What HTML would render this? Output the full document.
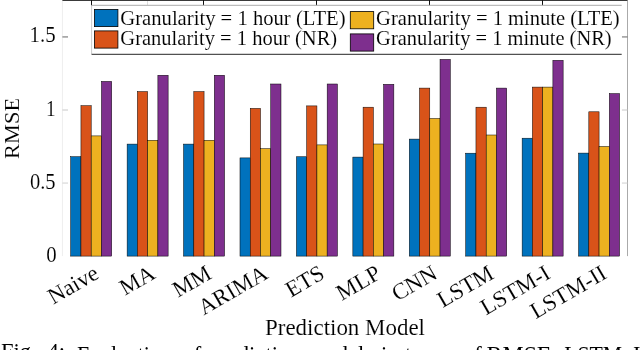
<!DOCTYPE html>
<html><head><meta charset="utf-8"><style>
html,body{margin:0;padding:0;background:#fff;width:640px;height:350px;overflow:hidden}
svg{display:block;will-change:transform;font-family:"Liberation Serif", serif;fill:#000}
text{fill:#000;stroke:#fff;stroke-width:0.1px}
</style></head><body>
<svg width="640" height="350" viewBox="0 0 640 350">
<line x1="62.4" y1="0.4" x2="62.4" y2="256.1" stroke="#eeeeee" stroke-width="1"/>
<line x1="627.5" y1="0.4" x2="627.5" y2="256.1" stroke="#aaaaaa" stroke-width="1"/>
<line x1="62.4" y1="183.05" x2="68.0" y2="183.05" stroke="#d0d0d0" stroke-width="1"/>
<line x1="621.9" y1="183.05" x2="627.5" y2="183.05" stroke="#d0d0d0" stroke-width="1"/>
<line x1="62.4" y1="110.00" x2="68.0" y2="110.00" stroke="#c8c8c8" stroke-width="1"/>
<line x1="621.9" y1="110.00" x2="627.5" y2="110.00" stroke="#c8c8c8" stroke-width="1"/>
<line x1="62.4" y1="36.95" x2="68.0" y2="36.95" stroke="#666666" stroke-width="1"/>
<line x1="621.9" y1="36.95" x2="627.5" y2="36.95" stroke="#666666" stroke-width="1"/>
<rect x="70.70" y="156.70" width="10.25" height="99.40" fill="#0072BD" stroke="#000" stroke-width="0.5"/>
<rect x="80.95" y="105.70" width="10.25" height="150.40" fill="#D95319" stroke="#000" stroke-width="0.5"/>
<rect x="91.20" y="135.90" width="10.25" height="120.20" fill="#EDB120" stroke="#000" stroke-width="0.5"/>
<rect x="101.45" y="81.40" width="10.25" height="174.70" fill="#7E2F8E" stroke="#000" stroke-width="0.5"/>
<rect x="127.13" y="144.10" width="10.25" height="112.00" fill="#0072BD" stroke="#000" stroke-width="0.5"/>
<rect x="137.38" y="91.60" width="10.25" height="164.50" fill="#D95319" stroke="#000" stroke-width="0.5"/>
<rect x="147.63" y="140.30" width="10.25" height="115.80" fill="#EDB120" stroke="#000" stroke-width="0.5"/>
<rect x="157.88" y="75.25" width="10.25" height="180.85" fill="#7E2F8E" stroke="#000" stroke-width="0.5"/>
<rect x="183.56" y="144.10" width="10.25" height="112.00" fill="#0072BD" stroke="#000" stroke-width="0.5"/>
<rect x="193.81" y="91.60" width="10.25" height="164.50" fill="#D95319" stroke="#000" stroke-width="0.5"/>
<rect x="204.06" y="140.30" width="10.25" height="115.80" fill="#EDB120" stroke="#000" stroke-width="0.5"/>
<rect x="214.31" y="75.25" width="10.25" height="180.85" fill="#7E2F8E" stroke="#000" stroke-width="0.5"/>
<rect x="239.99" y="157.90" width="10.25" height="98.20" fill="#0072BD" stroke="#000" stroke-width="0.5"/>
<rect x="250.24" y="108.40" width="10.25" height="147.70" fill="#D95319" stroke="#000" stroke-width="0.5"/>
<rect x="260.49" y="148.70" width="10.25" height="107.40" fill="#EDB120" stroke="#000" stroke-width="0.5"/>
<rect x="270.74" y="84.00" width="10.25" height="172.10" fill="#7E2F8E" stroke="#000" stroke-width="0.5"/>
<rect x="296.42" y="156.75" width="10.25" height="99.35" fill="#0072BD" stroke="#000" stroke-width="0.5"/>
<rect x="306.67" y="105.90" width="10.25" height="150.20" fill="#D95319" stroke="#000" stroke-width="0.5"/>
<rect x="316.92" y="144.90" width="10.25" height="111.20" fill="#EDB120" stroke="#000" stroke-width="0.5"/>
<rect x="327.17" y="84.00" width="10.25" height="172.10" fill="#7E2F8E" stroke="#000" stroke-width="0.5"/>
<rect x="352.85" y="157.10" width="10.25" height="99.00" fill="#0072BD" stroke="#000" stroke-width="0.5"/>
<rect x="363.10" y="107.20" width="10.25" height="148.90" fill="#D95319" stroke="#000" stroke-width="0.5"/>
<rect x="373.35" y="144.00" width="10.25" height="112.10" fill="#EDB120" stroke="#000" stroke-width="0.5"/>
<rect x="383.60" y="84.30" width="10.25" height="171.80" fill="#7E2F8E" stroke="#000" stroke-width="0.5"/>
<rect x="409.28" y="139.10" width="10.25" height="117.00" fill="#0072BD" stroke="#000" stroke-width="0.5"/>
<rect x="419.53" y="88.10" width="10.25" height="168.00" fill="#D95319" stroke="#000" stroke-width="0.5"/>
<rect x="429.78" y="118.50" width="10.25" height="137.60" fill="#EDB120" stroke="#000" stroke-width="0.5"/>
<rect x="440.03" y="59.40" width="10.25" height="196.70" fill="#7E2F8E" stroke="#000" stroke-width="0.5"/>
<rect x="465.71" y="153.20" width="10.25" height="102.90" fill="#0072BD" stroke="#000" stroke-width="0.5"/>
<rect x="475.96" y="107.20" width="10.25" height="148.90" fill="#D95319" stroke="#000" stroke-width="0.5"/>
<rect x="486.21" y="135.00" width="10.25" height="121.10" fill="#EDB120" stroke="#000" stroke-width="0.5"/>
<rect x="496.46" y="88.10" width="10.25" height="168.00" fill="#7E2F8E" stroke="#000" stroke-width="0.5"/>
<rect x="522.14" y="138.20" width="10.25" height="117.90" fill="#0072BD" stroke="#000" stroke-width="0.5"/>
<rect x="532.39" y="87.10" width="10.25" height="169.00" fill="#D95319" stroke="#000" stroke-width="0.5"/>
<rect x="542.64" y="87.10" width="10.25" height="169.00" fill="#EDB120" stroke="#000" stroke-width="0.5"/>
<rect x="552.89" y="60.30" width="10.25" height="195.80" fill="#7E2F8E" stroke="#000" stroke-width="0.5"/>
<rect x="578.57" y="153.10" width="10.25" height="103.00" fill="#0072BD" stroke="#000" stroke-width="0.5"/>
<rect x="588.82" y="111.80" width="10.25" height="144.30" fill="#D95319" stroke="#000" stroke-width="0.5"/>
<rect x="599.07" y="146.50" width="10.25" height="109.60" fill="#EDB120" stroke="#000" stroke-width="0.5"/>
<rect x="609.32" y="93.60" width="10.25" height="162.50" fill="#7E2F8E" stroke="#000" stroke-width="0.5"/>
<line x1="62.4" y1="0.5" x2="627.5" y2="0.5" stroke="#3a3a3a" stroke-width="1"/>
<line x1="91.50" y1="0" x2="91.50" y2="6.2" stroke="#111" stroke-width="1"/>
<line x1="203.50" y1="0" x2="203.50" y2="6.2" stroke="#111" stroke-width="1"/>
<line x1="316.50" y1="0" x2="316.50" y2="6.2" stroke="#111" stroke-width="1"/>
<line x1="429.50" y1="0" x2="429.50" y2="6.2" stroke="#111" stroke-width="1"/>
<line x1="542.50" y1="0" x2="542.50" y2="6.2" stroke="#111" stroke-width="1"/>
<line x1="147.5" y1="1" x2="147.5" y2="5.3" stroke="#dddddd" stroke-width="1"/>
<rect x="91.6" y="5.3" width="530.1" height="49" fill="#fff" stroke="none"/>
<line x1="91.6" y1="5.3" x2="621.7" y2="5.3" stroke="#aaaaaa" stroke-width="1"/>
<line x1="91.6" y1="5.3" x2="91.6" y2="54.3" stroke="#cccccc" stroke-width="1"/>
<line x1="91.6" y1="54.3" x2="621.7" y2="54.3" stroke="#262626" stroke-width="1"/>
<rect x="94.5" y="9.4" width="23.4" height="17.2" fill="#0072BD" stroke="#000" stroke-width="0.8"/>
<rect x="94.5" y="30.9" width="23.4" height="17.2" fill="#D95319" stroke="#000" stroke-width="0.8"/>
<rect x="350.3" y="11.6" width="23.4" height="17.2" fill="#EDB120" stroke="#000" stroke-width="0.8"/>
<rect x="350.3" y="33.9" width="23.4" height="17.2" fill="#7E2F8E" stroke="#000" stroke-width="0.8"/>
<text x="120.3" y="24.6" font-size="20" text-anchor="start" textLength="225.3" lengthAdjust="spacingAndGlyphs">Granularity = 1 hour (LTE)</text>
<text x="120.3" y="45.3" font-size="20" text-anchor="start" textLength="216.9" lengthAdjust="spacingAndGlyphs">Granularity = 1 hour (NR)</text>
<text x="376.1" y="24.6" font-size="20" text-anchor="start" textLength="243.6" lengthAdjust="spacingAndGlyphs">Granularity = 1 minute (LTE)</text>
<text x="376.1" y="45.3" font-size="20" text-anchor="start" textLength="235.6" lengthAdjust="spacingAndGlyphs">Granularity = 1 minute (NR)</text>
<text x="29.6" y="42.2" font-size="22.5" text-anchor="start" textLength="26.08" lengthAdjust="spacingAndGlyphs">1.5</text>
<text x="46.0" y="115.5" font-size="22.5" text-anchor="start" textLength="9.6" lengthAdjust="spacingAndGlyphs">1</text>
<text x="30.0" y="189.0" font-size="22.5" text-anchor="start" textLength="25.62" lengthAdjust="spacingAndGlyphs">0.5</text>
<text x="46.2" y="262.0" font-size="22.5" text-anchor="start" textLength="10.41" lengthAdjust="spacingAndGlyphs">0</text>
<text x="0" y="0" font-size="22" transform="translate(18.9,158.9) rotate(-90)" textLength="61" lengthAdjust="spacingAndGlyphs">RMSE</text>
<text x="0" y="0" font-size="22.8" text-anchor="end" transform="translate(100.30,277.50) rotate(-30)">Naive</text>
<text x="0" y="0" font-size="22.8" text-anchor="end" transform="translate(156.73,277.50) rotate(-30)">MA</text>
<text x="0" y="0" font-size="22.8" text-anchor="end" transform="translate(213.16,277.50) rotate(-30)">MM</text>
<text x="0" y="0" font-size="22.8" text-anchor="end" transform="translate(269.59,277.50) rotate(-30)">ARIMA</text>
<text x="0" y="0" font-size="22.8" text-anchor="end" transform="translate(326.02,277.50) rotate(-30)">ETS</text>
<text x="0" y="0" font-size="22.8" text-anchor="end" transform="translate(382.45,277.50) rotate(-30)">MLP</text>
<text x="0" y="0" font-size="22.8" text-anchor="end" transform="translate(438.88,277.50) rotate(-30)">CNN</text>
<text x="0" y="0" font-size="22.8" text-anchor="end" transform="translate(495.31,277.50) rotate(-30)">LSTM</text>
<text x="0" y="0" font-size="22.8" text-anchor="end" transform="translate(551.74,277.50) rotate(-30)">LSTM-I</text>
<text x="0" y="0" font-size="22.8" text-anchor="end" transform="translate(608.17,277.50) rotate(-30)">LSTM-II</text>
<text x="265.0" y="335.0" font-size="22.5" text-anchor="start" textLength="160.0" lengthAdjust="spacingAndGlyphs">Prediction Model</text>
<text x="1.0" y="359.1" font-size="22.5" text-anchor="start" style="stroke:none">Fig.</text>
<text x="47.5" y="359.1" font-size="22.5" text-anchor="start" style="stroke:none">4:</text>
<text x="77.0" y="361.5" font-size="22.5" text-anchor="start" textLength="94.85" lengthAdjust="spacingAndGlyphs" style="stroke:none">Evaluation</text>
<text x="182.4" y="361.5" font-size="22.5" text-anchor="start" style="stroke:none">of</text>
<text x="208.8" y="361.5" font-size="22.5" text-anchor="start" textLength="91.88" lengthAdjust="spacingAndGlyphs" style="stroke:none">prediction</text>
<text x="308.0" y="361.5" font-size="22.5" text-anchor="start" style="stroke:none">models</text>
<text x="381.0" y="361.5" font-size="22.5" text-anchor="start" style="stroke:none">in</text>
<text x="405.0" y="361.5" font-size="22.5" text-anchor="start" style="stroke:none">terms</text>
<text x="463.0" y="361.5" font-size="22.5" text-anchor="start" style="stroke:none">of</text>
<text x="486.6" y="361.5" font-size="22.5" text-anchor="start" textLength="70.77" lengthAdjust="spacingAndGlyphs" style="stroke:none">RMSE.</text>
<text x="564.2" y="361.5" font-size="22.5" text-anchor="start" textLength="58.0" lengthAdjust="spacingAndGlyphs" style="stroke:none">LSTM</text>
<text x="622.5" y="361.5" font-size="22.5" text-anchor="start" style="stroke:none">-</text>
<text x="633.0" y="361.5" font-size="22.5" text-anchor="start" style="stroke:none">II</text>
</svg>
</body></html>
